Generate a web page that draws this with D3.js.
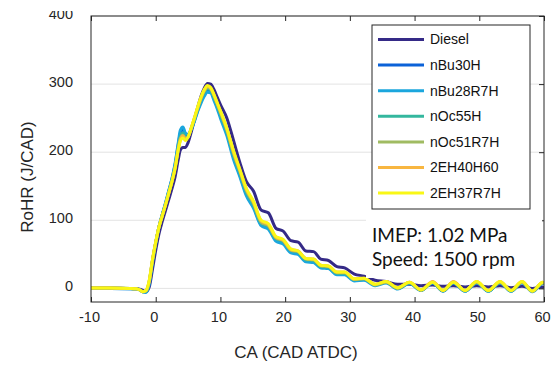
<!DOCTYPE html>
<html>
<head>
<meta charset="utf-8">
<script src="https://cdn.jsdelivr.net/npm/d3@7"></script>
<style>
  body { margin: 0; background: #fff; }
  svg { display: block; font-family: "Liberation Sans", Arial, sans-serif; }
</style>
</head>
<body>
<script>
// crank angle grid shared by all series (CAD ATDC)
const ca = [-10, -7, -4, -3, -2.5, -2, -1.5, -1, -0.5, 0, 0.5, 1, 1.5, 2, 2.5, 3, 3.5, 3.8, 4.2, 4.6,
  5, 5.5, 6, 6.5, 7, 7.5, 8, 8.5, 9, 9.5, 10, 11, 12, 13, 14,
  15.1, 16.3, 17.4, 18.6, 19.7, 20.9, 22.0, 23.2, 24.4, 25.5, 26.7, 28.0, 29.2, 30.7, 32.2, 33.9,
  35.6, 37.4, 39.2, 41.0, 42.8, 44.4, 46.0, 47.8, 49.6, 51.4, 53.2, 54.9, 56.6, 58.2, 59.8, 60];

const fuels = ["Diesel", "nBu30H", "nBu28R7H", "nOc55H", "nOc51R7H", "2EH40H60", "2EH37R7H"];
const colors = ["#352a87", "#0b62d8", "#1ba6dd", "#34b79e", "#a0bb62", "#f8b640", "#f9f716"];

// rate of heat release, J/CAD
const diesel = [0.5, 0.5, 0, 0, -1, -3, -5, 2, 28, 56, 80, 98, 114, 130, 146, 164, 190, 203, 207, 207,
  214, 230, 248, 266, 282, 294, 301, 300, 292, 281, 270, 250, 218, 185, 157,
  143, 115, 111, 88, 84, 70, 68, 55, 54, 43, 41, 32, 30, 21, 18, 12, 10, 6, 6, 4, 5, 3, 4, 2, 4, 2, 4, 1, 3, 0, 2, 1];
const nBu30H = [0, 0, -0.5, -1, -2, -5, -5, 8, 40, 67, 90, 108, 124, 142, 160, 182, 212, 228, 234, 226,
  225, 234, 247, 262, 275, 285, 290, 289, 279, 267, 254, 228, 194, 167, 139,
  120, 94, 89, 71, 67, 54, 51, 41, 40, 31, 30, 21, 21, 12, 13, 5, 9, 0, 8, -2, 8, -4, 8, -4, 9, -4, 9, -4, 9, -4, 8, 7];
const nBu28R7H = [0, 0, -0.5, -1, -2, -5, -6, 6, 38, 66, 90, 108, 125, 143, 161, 184, 215, 232, 237, 228,
  226, 234, 246, 260, 272, 282, 288, 287, 276, 264, 250, 224, 190, 164, 136,
  118, 92, 87, 69, 65, 52, 50, 39, 38, 30, 29, 20, 20, 11, 12, 4, 8, -1, 7, -3, 8, -4, 8, -4, 8, -4, 8, -4, 8, -5, 7, 6];
const nOc55H = [0.5, 0.5, 0, -0.5, -2, -5, -4, 10, 41, 67, 90, 107, 123, 141, 158, 179, 208, 222, 228, 222,
  223, 235, 249, 264, 278, 288, 293, 291, 281, 269, 256, 230, 197, 170, 142,
  123, 96, 91, 73, 69, 56, 53, 42, 41, 32, 31, 22, 22, 13, 14, 5, 9, 0, 8, -3, 9, -4, 9, -4, 9, -4, 9, -4, 9, -4, 8, 7];
const nOc51R7H = [0.5, 0.5, 0, -0.5, -2, -5, -4, 10, 41, 67, 90, 107, 123, 140, 157, 178, 206, 220, 225, 220,
  222, 235, 250, 265, 279, 290, 295, 293, 283, 271, 258, 232, 199, 172, 144,
  125, 97, 92, 74, 70, 56, 54, 43, 42, 33, 32, 23, 23, 13, 14, 5, 9, 0, 9, -3, 9, -3, 9, -3, 9, -3, 9, -3, 9, -4, 8, 7];
const eh40H60 = [0.5, 0.5, 0, -0.5, -2, -5, -3, 11, 42, 68, 90, 106, 122, 139, 156, 177, 205, 218, 224, 219,
  222, 236, 251, 266, 280, 291, 297, 294, 284, 272, 260, 234, 201, 174, 146,
  127, 99, 94, 75, 71, 57, 55, 44, 43, 34, 33, 24, 24, 14, 15, 6, 10, 1, 9, -2, 10, -3, 10, -3, 10, -3, 10, -3, 10, -4, 9, 8];
const eh37R7H = [0.5, 0.5, 0, -0.5, -2, -5, -3, 12, 42, 68, 90, 106, 122, 139, 156, 176, 204, 216, 221, 217,
  222, 236, 251, 267, 281, 292, 298, 295, 285, 273, 261, 235, 203, 175, 147,
  128, 100, 95, 76, 72, 58, 55, 44, 43, 34, 33, 24, 24, 14, 15, 6, 10, 1, 9, -2, 9, -3, 9, -3, 10, -3, 10, -3, 10, -4, 9, 8];

const seriesValues = [diesel, nBu30H, nBu28R7H, nOc55H, nOc51R7H, eh40H60, eh37R7H];

const xTicks = [-10, 0, 10, 20, 30, 40, 50, 60];
const yTicks = [0, 100, 200, 300, 400];
const notes = ["IMEP: 1.02 MPa", "Speed: 1500 rpm"];

const W = 555, H = 365;
const margin = {top: 16, right: 11, bottom: 63, left: 91};
const width = W - margin.left - margin.right,
      height = H - margin.top - margin.bottom;
const axisColor = "#262626";

const svg = d3.select("body").append("svg")
    .attr("width", W)
    .attr("height", H);

svg.append("defs").append("clipPath").attr("id", "plot-clip")
  .append("rect").attr("width", width).attr("height", height);
svg.select("defs").append("clipPath").attr("id", "label-clip")
  .append("rect").attr("x", -margin.left).attr("y", -5).attr("width", margin.left).attr("height", height + 20);

const g = svg.append("g")
    .attr("transform", "translate(" + margin.left + "," + margin.top + ")");

const x = d3.scaleLinear().domain([-10, 60]).range([0, width]);
const y = d3.scaleLinear().domain([-20, 400]).range([height, 0]);

// grid
g.append("g").selectAll("line")
  .data(yTicks)
  .enter().append("line")
    .attr("x1", 0).attr("x2", width)
    .attr("y1", d => y(d)).attr("y2", d => y(d))
    .attr("stroke", "#e3e3e3")
    .attr("stroke-width", 1);

// curves
const line = d3.line()
  .x(d => x(d[0]))
  .y(d => y(d[1]))
  .curve(d3.curveMonotoneX);

g.append("g").attr("clip-path", "url(#plot-clip)")
  .selectAll("path")
  .data(seriesValues)
  .enter().append("path")
    .attr("fill", "none")
    .attr("stroke", (d, i) => colors[i])
    .attr("stroke-width", 3)
    .attr("stroke-linejoin", "round")
    .attr("d", d => line(d.map((v, i) => [ca[i], v])));

// axes
function styleAxis(sel) {
  sel.select(".domain").remove();
  sel.selectAll(".tick line").attr("stroke", axisColor);
  sel.selectAll(".tick text").attr("fill", axisColor).style("font-size", "14.5px")
    .style("font-family", "'Liberation Sans', Arial, sans-serif");
}

const xAxis = g.append("g")
  .attr("transform", "translate(0," + height + ")")
  .call(d3.axisBottom(x).tickValues(xTicks).tickSize(-5).tickPadding(10).tickFormat(d => String(d)))
  .call(styleAxis);
xAxis.selectAll(".tick text").attr("dx", -2);

g.append("g")
  .call(d3.axisTop(x).tickValues(xTicks).tickSize(-5).tickFormat(""))
  .call(styleAxis);

const yAxis = g.append("g")
  .attr("clip-path", "url(#label-clip)")
  .call(d3.axisLeft(y).tickValues(yTicks).tickSize(-5).tickPadding(18))
  .call(styleAxis);
yAxis.selectAll(".tick text").attr("dy", "0.15em");

g.append("g")
  .attr("transform", "translate(" + width + ",0)")
  .call(d3.axisRight(y).tickValues(yTicks).tickSize(-5).tickFormat(""))
  .call(styleAxis);

g.append("rect")
  .attr("width", width).attr("height", height)
  .attr("fill", "none")
  .attr("stroke", axisColor)
  .attr("stroke-width", 1);

// axis titles
svg.append("text")
  .attr("x", 296).attr("y", 358)
  .attr("text-anchor", "middle")
  .attr("fill", axisColor)
  .style("font-size", "17px")
  .text("CA (CAD ATDC)");

svg.append("text")
  .attr("transform", "translate(33,177) rotate(-90)")
  .attr("text-anchor", "middle")
  .attr("fill", axisColor)
  .style("font-size", "17px")
  .text("RoHR (J/CAD)");

// annotation with white backing
const note = g.append("g");
note.append("rect")
  .attr("x", 366 - margin.left).attr("y", 212 - margin.top)
  .attr("width", 176).attr("height", 66)
  .attr("fill", "#fff");
note.selectAll("text")
  .data(notes)
  .enter().append("text")
    .attr("x", 372 - margin.left)
    .attr("y", (d, i) => 241.5 - margin.top + i * 24.5)
    .attr("fill", "#111")
    .style("font-family", "Lato, 'Open Sans', sans-serif")
    .style("font-size", "19px")
    .text(d => d);

// legend
const legend = g.append("g")
  .attr("transform", "translate(" + (372 - margin.left) + "," + (25 - margin.top) + ")");
legend.append("rect")
  .attr("width", 158).attr("height", 184)
  .attr("fill", "#fff")
  .attr("stroke", axisColor)
  .attr("stroke-width", 1);
const item = legend.selectAll(".item")
  .data(fuels)
  .enter().append("g")
    .attr("class", "item")
    .attr("transform", (d, i) => "translate(0," + (14.5 + i * 25.6) + ")");
item.append("line")
  .attr("x1", 6).attr("x2", 52)
  .attr("stroke", (d, i) => colors[i])
  .attr("stroke-width", 3);
item.append("text")
  .attr("x", 58).attr("dy", "0.35em")
  .attr("fill", "#111")
  .style("font-size", "14px")
  .text(d => d);
</script>
</body>
</html>
